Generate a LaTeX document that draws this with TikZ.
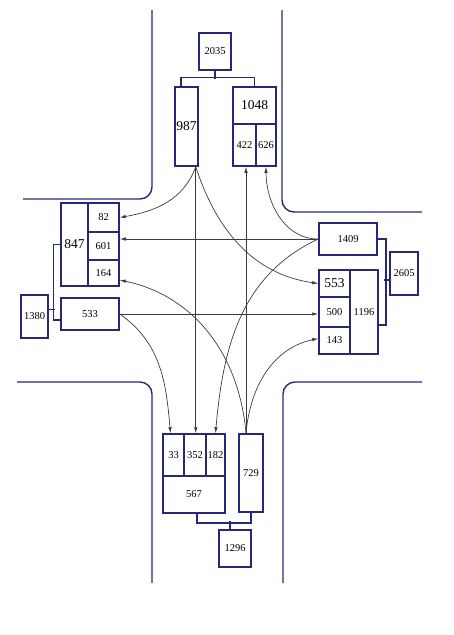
\documentclass[tikz,border=0pt]{standalone}
\usepackage{fontspec}
\setmainfont{Liberation Serif}
\usetikzlibrary{arrows.meta}
\definecolor{navy}{RGB}{40,40,120}
\definecolor{arrowgray}{RGB}{60,60,60}
\tikzset{
  box/.style={draw=navy, line width=1.5pt, inner sep=0pt, font=\fontsize{10.5}{12}\selectfont},
  bigbox/.style={box, font=\fontsize{13.5}{15}\selectfont},
  road/.style={draw=navy, line width=1.4pt, rounded corners=12pt},
  tree/.style={draw=navy, line width=1.5pt},
  flow/.style={draw=arrowgray, line width=0.7pt, -{Latex[length=6pt,width=3.5pt]}}
}
\begin{document}
\begin{tikzpicture}[x=1pt,y=-1pt]
\useasboundingbox (0,0) rectangle (454,635);
% roads
\draw[road] (152,10) -- (152,199) -- (23,199);
\draw[road] (282,10) -- (282,212) -- (422,212);
\draw[road] (17,382) -- (152,382) -- (152,583);
\draw[road] (422,382) -- (283,382) -- (283,583);
% north
\node[box, minimum width=32pt, minimum height=37pt] (b2035) at (215,51.5) {2035};
\node[bigbox, minimum width=23pt, minimum height=79pt] (b987) at (186.5,126.5) {987};
\node[bigbox, minimum width=43pt, minimum height=37pt] (b1048) at (254.5,105.5) {1048};
\node[box, minimum width=23pt, minimum height=42pt] (b422) at (244.5,145) {422};
\node[box, minimum width=20pt, minimum height=42pt] (b626) at (266,145) {626};
% west
\node[bigbox, minimum width=27pt, minimum height=83pt] (b847) at (74.5,244.5) {847};
\node[box, minimum width=31pt, minimum height=29pt] (b82) at (103.5,217.5) {82};
\node[box, minimum width=31pt, minimum height=28pt] (b601) at (103.5,246) {601};
\node[box, minimum width=31pt, minimum height=26pt] (b164) at (103.5,273) {164};
\node[box, minimum width=58pt, minimum height=32pt] (b533) at (90,314) {533};
\node[box, minimum width=27pt, minimum height=43pt] (b1380) at (34.5,316.5) {1380};
% east
\node[box, minimum width=58pt, minimum height=32pt] (b1409) at (348,239) {1409};
\node[bigbox, minimum width=31pt, minimum height=27pt] (b553) at (334.5,283.5) {553};
\node[box, minimum width=31pt, minimum height=30pt] (b500) at (334.5,312) {500};
\node[box, minimum width=31pt, minimum height=27pt] (b143) at (334.5,340.5) {143};
\node[box, minimum width=28pt, minimum height=84pt] (b1196) at (364,312) {1196};
\node[box, minimum width=28pt, minimum height=43pt] (b2605) at (404,273.5) {2605};
% south
\node[box, minimum width=21pt, minimum height=42pt] (b33) at (173.5,455) {33};
\node[box, minimum width=22pt, minimum height=42pt] (b352) at (195,455) {352};
\node[box, minimum width=19pt, minimum height=42pt] (b182) at (215.5,455) {182};
\node[box, minimum width=62pt, minimum height=37pt] (b567) at (194,494.5) {567};
\node[box, minimum width=24pt, minimum height=78pt] (b729) at (251,473) {729};
\node[box, minimum width=32pt, minimum height=37pt] (b1296) at (235,548.5) {1296};
% trees
\draw[tree] (b2035.south) -- ++(0,8);
\draw[tree] ([xshift=-5.5pt]b987.north) -- ++(0,-9) -| (b1048.north);
\draw[tree] (b847.west) -- ++(-7,0) |- ([yshift=-6pt]b533.west);
\draw[tree] ([yshift=7pt]b1380.east) -- ++(6,0);
\draw[tree] (b1409.east) -- ++(8,0) |- ([yshift=-13pt]b1196.east);
\draw[tree] ([yshift=-6.5pt]b2605.west) -- ++(-5,0);
\draw[tree] ([xshift=3pt]b567.south) -- ++(0,9) -| (b729.south);
\draw[tree] ([xshift=-5pt]b1296.north) -- ++(0,-8);
% flows
\coordinate (s987) at ([xshift=-3pt]b987.south east);
\coordinate (s729) at ([xshift=-5pt]b729.north);
\draw[flow] (s987) to[out=-110,in=10] (b82.east);
\draw[flow] (s987) -- (s987 |- b352.north);
\draw[flow] (s987) to[out=-72,in=172] (b553.west);
\draw[flow] (b1409.west) -- (b1409.west -| b601.east);
\draw[flow] (b1409.west) to[out=180,in=-90] (b626.south);
\draw[flow] (b1409.west) to[out=205,in=85] (b182.north);
\draw[flow] (b533.east) -- (b533.east -| b500.west);
\draw[flow] (b533.east) to[out=-35,in=95] ([xshift=-3pt]b33.north);
\draw[flow] (s729) -- (s729 |- b422.south);
\draw[flow] (s729) to[out=95,in=-12] ([yshift=-7pt]b164.east);
\draw[flow] (s729) to[out=85,in=192] ([yshift=2pt]b143.west);
\end{tikzpicture}
\end{document}
